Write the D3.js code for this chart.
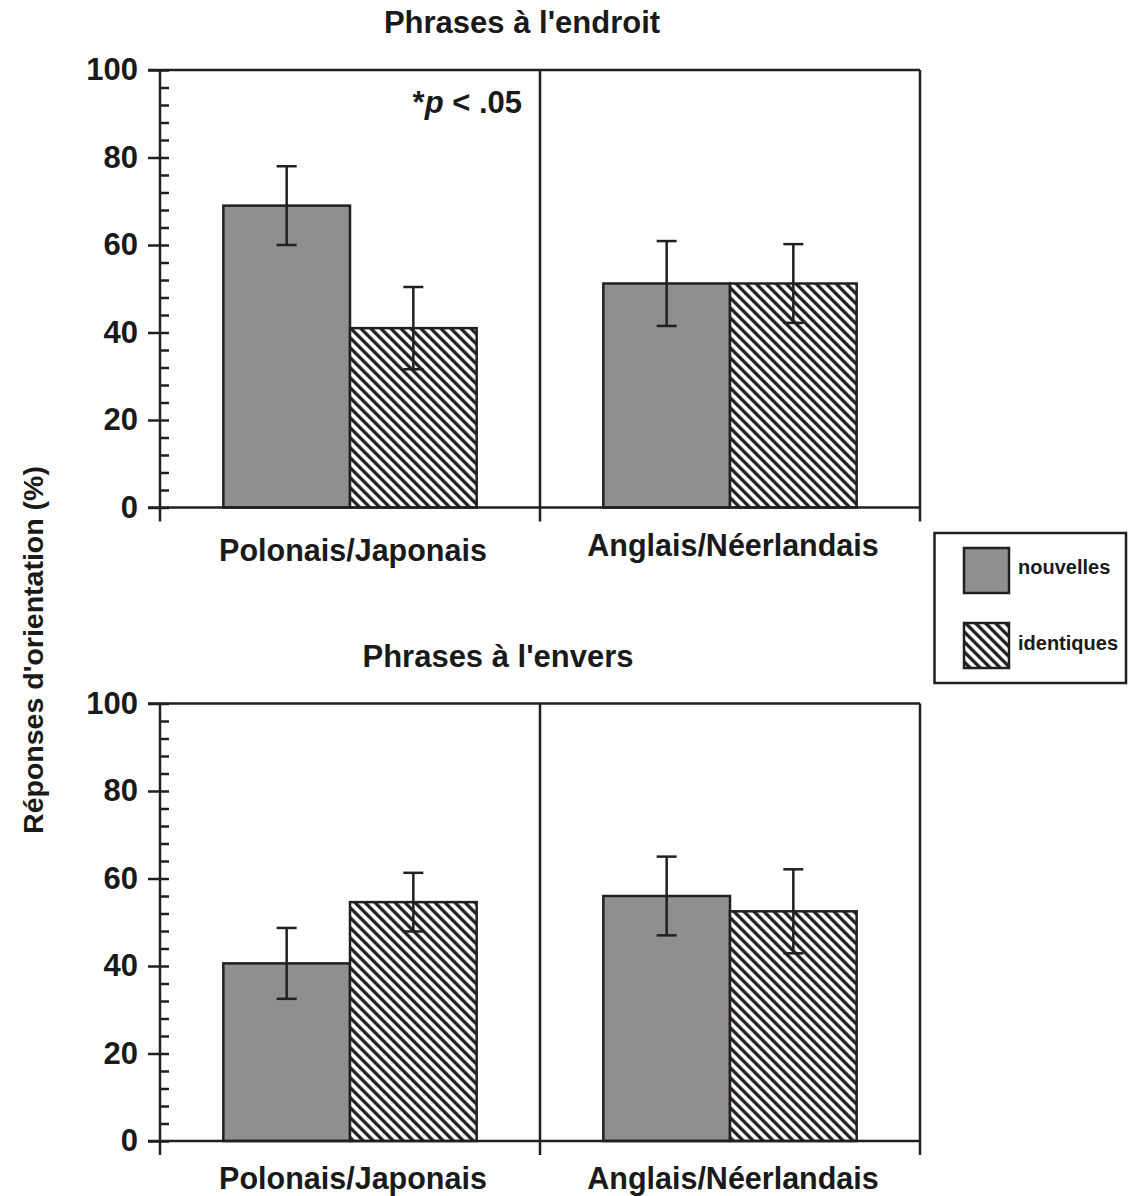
<!DOCTYPE html>
<html>
<head>
<meta charset="utf-8">
<script src="https://cdn.jsdelivr.net/npm/d3@7"></script>
<style>
  body { margin: 0; background: #fff; }
  text { font-family: "Liberation Sans", Arial, Helvetica, sans-serif; font-weight: bold; fill: #1a1a1a; }
</style>
</head>
<body>
<div id="my_chart"></div>
<script>
// categories and series
const groups = ["Polonais/Japonais", "Anglais/Néerlandais"];
const series = ["nouvelles", "identiques"];

// Phrases à l'endroit
const endroitNouvelles = [69.0, 51.2];
const endroitNouvellesErr = [9.0, 9.7];
const endroitIdentiques = [41.0, 51.2];
const endroitIdentiquesErr = [9.4, 9.0];

// Phrases à l'envers
const enversNouvelles = [40.6, 56.0];
const enversNouvellesErr = [8.1, 9.0];
const enversIdentiques = [54.6, 52.5];
const enversIdentiquesErr = [6.7, 9.6];

const yTicks = [0, 20, 40, 60, 80, 100];
const yMinor = d3.range(0, 101, 4);

const ink = "#231f20", grey = "#8e8f91";

const svg = d3.select("#my_chart")
    .append("svg")
    .attr("width", 1128)
    .attr("height", 1196);

// hatch pattern
const defs = svg.append("defs");
defs.append("pattern")
    .attr("id", "hatch")
    .attr("patternUnits", "userSpaceOnUse")
    .attr("width", 7.07)
    .attr("height", 7.07)
    .attr("patternTransform", "rotate(-45)")
  .call(p => {
    p.append("rect").attr("width", 7.07).attr("height", 7.07).attr("fill", "#fff");
    p.append("line").attr("x1", 1.7).attr("x2", 1.7).attr("y1", 0).attr("y2", 7.07)
      .attr("stroke", ink).attr("stroke-width", 3.3);
  });

const fills = { nouvelles: grey, identiques: "url(#hatch)" };

function panel(top, title, values, errs, labelY) {
  const bottom = top + 437.5;
  const x0 = d3.scaleBand().domain(groups).range([160, 920]);
  const x1 = d3.scaleBand().domain(series).range([0, x0.bandwidth()]).paddingOuter(0.5);
  const y = d3.scaleLinear().domain([0, 100]).range([bottom, top]);

  const g = svg.append("g");

  // title
  g.append("text")
    .attr("x", title.x).attr("y", top - 37)
    .attr("text-anchor", "middle")
    .style("font-size", "31px")
    .text(title.text);

  // data rows
  const rows = [];
  groups.forEach((grp, i) => {
    series.forEach((s, j) => {
      rows.push({ grp, s, v: values[j][i], e: errs[j][i] });
    });
  });

  // bars
  g.selectAll(".bar")
    .data(rows)
    .join("rect")
    .attr("x", d => x0(d.grp) + x1(d.s))
    .attr("y", d => y(d.v))
    .attr("width", x1.bandwidth())
    .attr("height", d => y(0) - y(d.v))
    .attr("fill", d => fills[d.s])
    .attr("stroke", ink)
    .attr("stroke-width", 2.5);

  // error bars
  const eb = g.selectAll(".err").data(rows).join("g")
    .attr("stroke", ink).attr("stroke-width", 2.5);
  const cx = d => x0(d.grp) + x1(d.s) + x1.bandwidth() / 2;
  eb.append("line")
    .attr("x1", cx).attr("x2", cx)
    .attr("y1", d => y(d.v + d.e)).attr("y2", d => y(d.v - d.e));
  eb.append("line")
    .attr("x1", d => cx(d) - 10).attr("x2", d => cx(d) + 10)
    .attr("y1", d => y(d.v + d.e)).attr("y2", d => y(d.v + d.e));
  eb.append("line")
    .attr("x1", d => cx(d) - 10).attr("x2", d => cx(d) + 10)
    .attr("y1", d => y(d.v - d.e)).attr("y2", d => y(d.v - d.e));

  // frame
  const frame = g.append("g").attr("stroke", ink).attr("stroke-width", 2.5).attr("fill", "none");
  frame.append("line").attr("x1", 148).attr("x2", 920).attr("y1", top).attr("y2", top);
  frame.append("line").attr("x1", 148).attr("x2", 920).attr("y1", bottom).attr("y2", bottom);
  const bounds = groups.map(d => x0(d)).concat([x0.range()[1]]);
  frame.selectAll(".vline").data(bounds).join("line")
    .attr("x1", d => d).attr("x2", d => d)
    .attr("y1", top).attr("y2", bottom + 14);

  // y axis: minor ticks inside, major ticks crossing
  g.append("g")
    .attr("transform", "translate(160,0)")
    .call(d3.axisRight(y).tickValues(yMinor).tickSize(9).tickFormat(""))
    .call(a => a.select(".domain").remove())
    .call(a => a.selectAll("line").attr("stroke", ink).attr("stroke-width", 2.5));
  g.append("g")
    .attr("transform", "translate(160,0)")
    .call(d3.axisLeft(y).tickValues(yTicks).tickSize(12).tickPadding(10))
    .call(a => a.select(".domain").remove())
    .call(a => a.selectAll("line").attr("stroke", ink).attr("stroke-width", 2.5))
    .call(a => a.selectAll("text")
      .style("font-size", "31px")
      .style("font-family", "'Liberation Sans', Arial, sans-serif")
      .style("font-weight", "bold")
      .attr("fill", "#1a1a1a"));

  // category labels
  g.selectAll(".cat").data(groups).join("text")
    .attr("x", d => x0(d) + x0.bandwidth() / 2 + 3)
    .attr("y", (d, i) => labelY[i])
    .attr("text-anchor", "middle")
    .style("font-size", "30.5px")
    .text(d => d);

  return { g, x0, y };
}

const p1 = panel(70, { text: "Phrases à l'endroit", x: 522 },
  [endroitNouvelles, endroitIdentiques], [endroitNouvellesErr, endroitIdentiquesErr], [561, 556]);
panel(703.5, { text: "Phrases à l'envers", x: 498 },
  [enversNouvelles, enversIdentiques], [enversNouvellesErr, enversIdentiquesErr], [1189, 1189]);

// significance note
p1.g.append("text")
  .attr("x", 522).attr("y", 113)
  .attr("text-anchor", "end")
  .style("font-size", "31px")
  .html("*<tspan font-style='italic'>p</tspan> &lt; .05");

// y axis title
svg.append("text")
  .attr("transform", "translate(43,650) rotate(-90)")
  .attr("text-anchor", "middle")
  .style("font-size", "28.5px")
  .style("font-weight", "600")
  .text("Réponses d'orientation (%)");

// legend
const legend = svg.append("g");
legend.append("rect")
  .attr("x", 934.5).attr("y", 533).attr("width", 191.5).attr("height", 150)
  .attr("fill", "#fff").attr("stroke", ink).attr("stroke-width", 2.5);
legend.selectAll(".sw").data(series).join("rect")
  .attr("x", 964).attr("y", (d, i) => 548 + i * 75)
  .attr("width", 45).attr("height", 45)
  .attr("fill", d => fills[d]).attr("stroke", ink).attr("stroke-width", 2.5);
legend.selectAll(".lt").data(series).join("text")
  .attr("x", 1018).attr("y", (d, i) => 574 + i * 76)
  .style("font-size", "20px")
  .text(d => d);
</script>
</body>
</html>
